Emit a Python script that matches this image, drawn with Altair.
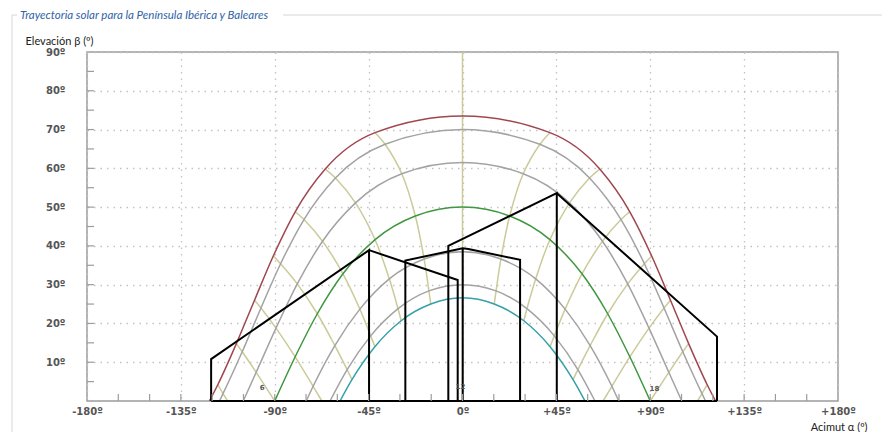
import altair as alt
import pandas as pd

TITLE = "Trayectoria solar para la Península Ibérica y Baleares"
Y_TITLE = "Elevación β (º)"
X_TITLE = "Acimut α (º)"

x_label_values = [-180, -135, -90, -45, 0, 45, 90, 135, 180]
y_label_values = [10, 20, 30, 40, 50, 60, 70, 80, 90]
x_minor_ticks = [-165, -150, -135, -120, -105, -90, -75, -60, -45, -30, -15, 0,
                 15, 30, 45, 60, 75, 90, 105, 120, 135, 150, 165]
y_minor_ticks = [5, 10, 15, 20, 25, 30, 35, 40, 45, 50, 55, 60, 65, 70, 75, 80, 85]

# Sun paths (one per declination), azimuth α (º) and elevation β (º)
path_names = ["d+23.45", "d+20", "d+11.5", "d0", "d-11.5", "d-20", "d-23.45"]
path_colors = ["#a0464e", "#a3a3a3", "#a3a3a3", "#3f973f", "#a3a3a3", "#a3a3a3", "#35a0aa"]
path_az = [
    [-121.3, -117.3, -108.4, -99.7, -90.7, -80.2, -65.8, -41.9, 0, 41.9, 65.8, 80.2, 90.7, 99.7, 108.4, 117.3, 121.3],
    [-116.5, -114.8, -105.6, -96.6, -87.2, -76.0, -60.9, -37.1, 0, 37.1, 60.9, 76.0, 87.2, 96.6, 105.6, 114.8, 116.5],
    [-105.1, -98.9, -89.4, -79.2, -67.1, -51.3, -29.1, 0, 29.1, 51.3, 67.1, 79.2, 89.4, 98.9, 105.1],
    [-90.0, -80.2, -69.6, -57.3, -41.9, -22.6, 0, 22.6, 41.9, 57.3, 69.6, 80.2, 90.0],
    [-74.9, -71.6, -61.2, -49.2, -35.1, -18.4, 0, 18.4, 35.1, 49.2, 61.2, 71.6, 74.9],
    [-63.5, -55.3, -44.0, -30.9, -16.1, 0, 16.1, 30.9, 44.0, 55.3, 63.5],
    [-58.7, -53.0, -42.0, -29.4, -15.2, 0, 15.2, 29.4, 42.0, 53.0, 58.7],
]
path_el = [
    [0, 4.2, 14.8, 26.0, 37.4, 48.8, 59.8, 69.2, 73.5, 69.2, 59.8, 48.8, 37.4, 26.0, 14.8, 4.2, 0],
    [0, 1.9, 12.7, 24.0, 35.4, 46.8, 57.5, 66.2, 70.0, 66.2, 57.5, 46.8, 35.4, 24.0, 12.7, 1.9, 0],
    [0, 7.4, 18.8, 30.2, 41.2, 51.1, 58.6, 61.5, 58.6, 51.1, 41.2, 30.2, 18.8, 7.4, 0],
    [0, 11.4, 22.5, 32.8, 41.6, 47.7, 50.0, 47.7, 41.6, 32.8, 22.5, 11.4, 0],
    [0, 3.8, 14.3, 23.7, 31.5, 36.6, 38.5, 36.6, 31.5, 23.7, 14.3, 3.8, 0],
    [0, 8.1, 16.8, 23.8, 28.4, 30.0, 28.4, 23.8, 16.8, 8.1, 0],
    [0, 5.5, 14.0, 20.7, 25.0, 26.6, 25.0, 20.7, 14.0, 5.5, 0],
]

# Hour lines (solar time), from winter path to summer path
hour_names = ["5", "6", "7", "8", "9", "10", "11", "12", "13", "14", "15", "16", "17", "18", "19"]
hour_az = [
    [-112.6, -114.8, -117.3],
    [-90.0, -98.9, -105.6, -108.4],
    [-67.4, -71.6, -80.2, -89.4, -96.6, -99.7],
    [-53.0, -55.3, -61.2, -69.6, -79.2, -87.2, -90.7],
    [-42.0, -44.0, -49.2, -57.3, -67.1, -76.0, -80.2],
    [-29.4, -30.9, -35.1, -41.9, -51.3, -60.9, -65.8],
    [-15.2, -16.1, -18.4, -22.6, -29.1, -37.1, -41.9],
    [0, 0],
    [15.2, 16.1, 18.4, 22.6, 29.1, 37.1, 41.9],
    [29.4, 30.9, 35.1, 41.9, 51.3, 60.9, 65.8],
    [42.0, 44.0, 49.2, 57.3, 67.1, 76.0, 80.2],
    [53.0, 55.3, 61.2, 69.6, 79.2, 87.2, 90.7],
    [67.4, 71.6, 80.2, 89.4, 96.6, 99.7],
    [90.0, 98.9, 105.6, 108.4],
    [112.6, 114.8, 117.3],
]
hour_el = [
    [0, 1.9, 4.2],
    [0, 7.4, 12.7, 14.8],
    [0, 3.8, 11.4, 18.8, 24.0, 26.0],
    [5.5, 8.1, 14.3, 22.5, 30.2, 35.4, 37.4],
    [14.0, 16.8, 23.7, 32.8, 41.2, 46.8, 48.8],
    [20.7, 23.8, 31.5, 41.6, 51.1, 57.5, 59.8],
    [25.0, 28.4, 36.6, 47.7, 58.6, 66.2, 69.2],
    [0, 90],
    [25.0, 28.4, 36.6, 47.7, 58.6, 66.2, 69.2],
    [20.7, 23.8, 31.5, 41.6, 51.1, 57.5, 59.8],
    [14.0, 16.8, 23.7, 32.8, 41.2, 46.8, 48.8],
    [5.5, 8.1, 14.3, 22.5, 30.2, 35.4, 37.4],
    [0, 3.8, 11.4, 18.8, 24.0, 26.0],
    [0, 7.4, 12.7, 14.8],
    [0, 1.9, 4.2],
]

hour_label_text = ["6", "12", "18"]
hour_label_az = [-96.0, -1.0, 92.0]
hour_label_el = [3.4, 3.5, 3.1]

# Obstacle profile (black polylines)
obst_az = [
    [-120.5, -120.5, -44.8, -44.8],
    [-44.8, -2.3, -2.3],
    [-27.4, -27.4, 0.1, 2.8, 27.6, 27.6],
    [0.1, 0.1],
    [-6.8, -6.8, 45.2, 45.2],
    [45.2, 122.0, 122.0],
    [-120.5, 122.0],
]
obst_el = [
    [0, 10.8, 38.9, 0],
    [38.9, 31.2, 0],
    [0, 36.2, 39.4, 39.2, 36.4, 0],
    [39.4, 0],
    [0, 40.0, 53.6, 0],
    [53.6, 16.6, 0],
    [0, 0],
]


def long_df(names, azs, els, key):
    rows = []
    for n, a_list, e_list in zip(names, azs, els):
        for i, (a, e) in enumerate(zip(a_list, e_list)):
            rows.append({key: n, "i": i, "az": a, "el": e})
    return pd.DataFrame(rows)


paths_df = long_df(path_names, path_az, path_el, "path")
hours_df = long_df(hour_names, hour_az, hour_el, "hour")
obst_df = long_df([f"o{k}" for k in range(len(obst_az))], obst_az, obst_el, "seg")
labels_df = pd.DataFrame({"t": hour_label_text, "az": hour_label_az, "el": hour_label_el})
yticks_df = pd.DataFrame({"el": y_minor_ticks})
xticks_df = pd.DataFrame({"az": x_minor_ticks})

W, H = 751, 349
xscale = alt.Scale(domain=[-180, 180], nice=False, zero=False)
yscale = alt.Scale(domain=[0, 90], nice=False, zero=False)

LABEL_FONT = "DejaVu Sans"
TEXT_FONT = "Lato"

x_axis = alt.Axis(
    values=x_label_values,
    labelExpr="datum.value > 0 ? '+' + datum.value + 'º' : datum.value + 'º'",
    ticks=False, domain=False, grid=True,
    gridDash=[1.5, 5], gridColor="#c2c2c2", gridWidth=1.3,
    labelFont=LABEL_FONT, labelFontSize=10, labelFontWeight="bold", labelColor="#555555",
    labelPadding=5, labelFlush=False, labelOverlap=False,
    title=X_TITLE, titleFont=TEXT_FONT, titleFontSize=11, titleFontWeight="normal",
    titleColor="#222222", titleX=780, titleY=26, titleAlign="right", titleBaseline="middle",
)
y_axis = alt.Axis(
    values=y_label_values,
    labelExpr="datum.value + 'º'",
    ticks=False, domain=False, grid=True,
    gridDash=[1.5, 5], gridColor="#c2c2c2", gridWidth=1.3,
    labelFont=LABEL_FONT, labelFontSize=10, labelFontWeight="bold", labelColor="#555555",
    labelPadding=22, labelFlush=False, labelOverlap=False,
    title=Y_TITLE, titleFont=TEXT_FONT, titleFontSize=11, titleFontWeight="normal",
    titleColor="#222222", titleAngle=0, titleX=-62, titleY=-11, titleAlign="left",
    titleBaseline="middle",
)

X = alt.X("az:Q", scale=xscale, axis=x_axis)
Y = alt.Y("el:Q", scale=yscale, axis=y_axis)

hour_layer = alt.Chart(hours_df).mark_line(
    interpolate="catmull-rom", color="#cbcb9a", strokeWidth=1.5
).encode(x=X, y=Y, detail="hour:N", order="i:Q")

path_layer = alt.Chart(paths_df).mark_line(interpolate="monotone", strokeWidth=1.5).encode(
    x=X, y=Y,
    color=alt.Color("path:N", scale=alt.Scale(domain=path_names, range=path_colors), legend=None),
    order="i:Q",
)

obst_layer = alt.Chart(obst_df).mark_line(color="#000000", strokeWidth=2).encode(
    x=X, y=Y, detail="seg:N", order="i:Q")

label_layer = alt.Chart(labels_df).mark_text(
    font=LABEL_FONT, fontSize=7, fontWeight="bold", color="#555555"
).encode(x=X, y=Y, text="t:N")

ytick_layer = alt.Chart(yticks_df).mark_rule(color="#9c9c9c", strokeWidth=1.2).encode(
    y=Y, x=alt.value(0), x2=alt.value(7))
xtick_layer = alt.Chart(xticks_df).mark_rule(color="#9c9c9c", strokeWidth=1.2).encode(
    x=X, y=alt.value(H), y2=alt.value(H - 7))

one = pd.DataFrame({"k": [0]})
box_top = alt.Chart(one).mark_rule(color="#d6d6d6", strokeWidth=1).encode(
    x=alt.value(196), x2=alt.value(795), y=alt.value(-37))
box_top_left = alt.Chart(one).mark_rule(color="#d6d6d6", strokeWidth=1).encode(
    x=alt.value(-75), x2=alt.value(-70), y=alt.value(-37))
box_left = alt.Chart(one).mark_rule(color="#d6d6d6", strokeWidth=1).encode(
    x=alt.value(-75), y=alt.value(-37), y2=alt.value(390))

title_layer = alt.Chart(pd.DataFrame({"t": [TITLE]})).mark_text(
    font=TEXT_FONT, fontSize=11.5, fontStyle="italic", color="#2f63a6",
    align="left", baseline="alphabetic",
).encode(text="t:N", x=alt.value(-67), y=alt.value(-33))

chart = alt.layer(
    hour_layer, path_layer, obst_layer, label_layer, ytick_layer, xtick_layer,
    box_top, box_top_left, box_left, title_layer,
).properties(
    width=W, height=H,
    padding={"left": 79, "top": 44, "right": 44, "bottom": 31},
    autosize=alt.AutoSizeParams(type="none"),
).configure_view(
    stroke="#9c9c9c", strokeWidth=1.5
)

chart.save("out.html", embed_options={"renderer": "svg", "actions": False})
